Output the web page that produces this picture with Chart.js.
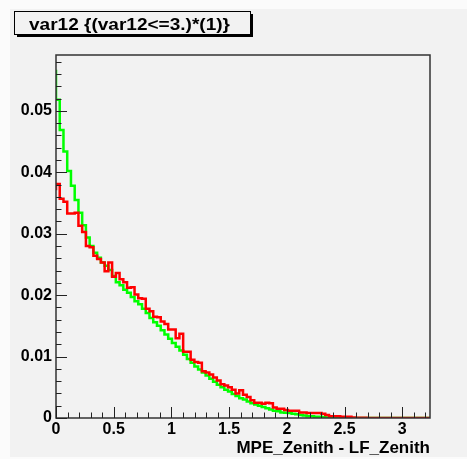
<!DOCTYPE html>
<html><head><meta charset="utf-8">
<script src="https://cdn.jsdelivr.net/npm/chart.js@4/dist/chart.umd.min.js"></script>
<style>html,body{margin:0;padding:0;background:#fbfbfb;} canvas{display:block;}</style>
</head><body>
<canvas id="c" width="467" height="459"></canvas>
<script>
const titleText = 'var12 {(var12<=3.)*(1)}';
const xAxisTitle = 'MPE_Zenith - LF_Zenith';
const binWidth = 0.0324;
const xMin = 0, xMax = 3.24;
const yMin = 0, yMax = 0.0591;
const xTicks = [0, 0.5, 1, 1.5, 2, 2.5, 3];
const xTickLabels = ['0', '0.5', '1', '1.5', '2', '2.5', '3'];
const yTicks = [0, 0.01, 0.02, 0.03, 0.04, 0.05];
const yTickLabels = ['0', '0.01', '0.02', '0.03', '0.04', '0.05'];

const greenValues = [
  0.0567,0.0518,0.0469,0.0434,0.0402,0.0378,0.0355,0.0334,0.0314,0.0294,0.0280,0.0269,
  0.0261,0.0253,0.0248,0.0241,0.0231,0.0221,0.0216,0.0209,0.0204,0.0197,0.0190,0.0185,
  0.0178,0.0171,0.0163,0.0156,0.0150,0.0143,0.0136,0.0129,0.0122,0.0116,0.0110,0.0103,
  0.0096,0.0090,0.0084,0.0079,0.0074,0.0069,0.0064,0.0059,0.0054,0.0050,0.0046,0.0043,
  0.0039,0.0036,0.0032,0.0030,0.0027,0.0024,0.0022,0.0020,0.0018,0.0016,0.0014,0.0012,
  0.0011,0.0009,0.00085,0.0008,0.0007,0.0006,0.0005,0.0004,0.0003,0.0003,0.0002,0.0002,
  0.00015,0.0001,0.0001,0.00005,0.00005,0.00003,0.00002,0.00002,0,0,0,0,
  0,0,0,0,0,0,0,0,0,0,0,0,0,0,0,0
];
const redValues = [
  0.0371,0.0381,0.0357,0.0352,0.0333,0.0333,0.0334,0.0313,0.0303,0.0280,0.0278,0.0264,
  0.0259,0.0253,0.0239,0.0253,0.0230,0.0236,0.0226,0.0221,0.0212,0.0213,0.0201,0.0195,
  0.0194,0.0178,0.0174,0.0165,0.0164,0.0157,0.0153,0.0144,0.0144,0.0130,0.0137,0.0108,
  0.0108,0.0095,0.0091,0.0090,0.0076,0.0074,0.0071,0.0066,0.0061,0.0055,0.0053,0.0050,
  0.0046,0.0040,0.0045,0.0038,0.0034,0.0029,0.0025,0.0025,0.0023,0.0025,0.0024,0.0017,
  0.0015,0.0015,0.0013,0.0012,0.0012,0.0012,0.0009,0.0009,0.0008,0.0008,0.0008,0.0008,
  0.0007,0.0005,0.0003,0.0003,0.0003,0.0002,0.0002,0.0002,0.0001,0.00005,0.00005,0.00003,
  0,0,0,0,0,0,0,0,0,0,0,0,0,0,0,0
];

function toSteps(vals) {
  const pts = vals.map((v, i) => ({x: i * binWidth, y: v}));
  pts.push({x: vals.length * binWidth, y: vals[vals.length - 1]});
  return pts;
}

const FONT = '"Liberation Sans", Arial, Helvetica, sans-serif';

const deco = {
  id: 'deco',
  beforeDraw(chart) {
    const ctx = chart.ctx;
    ctx.save();
    ctx.fillStyle = '#fbfbfb';
    ctx.fillRect(0, 0, chart.width, chart.height);
    ctx.fillStyle = '#f2f2f2';
    ctx.fillRect(10, 9, chart.width - 10, chart.height - 11);
    ctx.restore();
  },
  afterDraw(chart) {
    const {ctx, chartArea: a, scales: {x, y}} = chart;
    ctx.save();
    ctx.strokeStyle = '#333';
    ctx.lineWidth = 1.5;
    ctx.strokeRect(a.left, a.top, a.right - a.left, a.bottom - a.top);
    ctx.lineWidth = 1;
    ctx.strokeStyle = '#222';
    ctx.beginPath();
    const nx = Math.floor(xMax / 0.1 + 1e-9);
    for (let i = 0; i <= nx; i++) {
      const px = Math.round(x.getPixelForValue(i * 0.1)) + 0.5;
      const len = (i % 5 === 0) ? 11 : 5.5;
      ctx.moveTo(px, a.bottom); ctx.lineTo(px, a.bottom - len);
    }
    const ny = Math.floor(yMax / 0.002 + 1e-9);
    for (let i = 0; i <= ny; i++) {
      const py = Math.round(y.getPixelForValue(i * 0.002)) + 0.5;
      const len = (i % 5 === 0) ? 11 : 5.5;
      ctx.moveTo(a.left, py); ctx.lineTo(a.left + len, py);
    }
    ctx.stroke();

    // title box with shadow
    const bx = 14, by = 11, bw = 236, bh = 23;
    ctx.fillStyle = '#000';
    ctx.fillRect(bx + 3, by + bh, bw, 3);
    ctx.fillRect(bx + bw, by + 3, 3, bh);
    ctx.fillStyle = '#f2f2f2';
    ctx.fillRect(bx, by, bw, bh);
    ctx.strokeStyle = '#000';
    ctx.lineWidth = 1;
    ctx.strokeRect(bx + 0.5, by + 0.5, bw, bh);
    ctx.font = 'bold 17px ' + FONT;
    ctx.fillStyle = '#000';
    ctx.textBaseline = 'alphabetic';
    const w = ctx.measureText(titleText).width;
    const sx = 201 / w;
    ctx.translate(29, 29.5);
    ctx.scale(sx, 1);
    ctx.fillText(titleText, 0, 0);
    ctx.restore();
  }
};

new Chart(document.getElementById('c'), {
  type: 'line',
  data: {
    datasets: [
      {label: 'red', data: toSteps(redValues), borderColor: '#ff0000', borderWidth: 2.5,
       stepped: 'after', pointRadius: 0, fill: false, order: 0},
      {label: 'green', data: toSteps(greenValues), borderColor: '#00ff00', borderWidth: 2.5,
       stepped: 'after', pointRadius: 0, fill: false, order: 1}
    ]
  },
  options: {
    responsive: false,
    devicePixelRatio: 1,
    animation: false,
    layout: {padding: {left: 0, right: 37, top: 55, bottom: 0}},
    plugins: {legend: {display: false}, tooltip: {enabled: false}, title: {display: false}},
    scales: {
      x: {
        type: 'linear', min: xMin, max: xMax,
        grid: {display: false, drawTicks: false},
        border: {display: false},
        afterBuildTicks: s => { s.ticks = xTicks.map(v => ({value: v})); },
        afterFit: s => { s.height = 41; },
        ticks: {
          padding: 2, color: '#000', maxRotation: 0, autoSkip: false,
          font: {family: FONT, size: 16, weight: 'bold'},
          callback: (v) => { const i = xTicks.indexOf(v); return i >= 0 ? xTickLabels[i] : ''; }
        },
        title: {display: true, text: xAxisTitle, align: 'end', color: '#000',
                font: {family: FONT, size: 17, weight: 'bold'}, padding: {top: 0, bottom: 0}}
      },
      y: {
        type: 'linear', min: yMin, max: yMax,
        grid: {display: false, drawTicks: false},
        border: {display: false},
        afterBuildTicks: s => { s.ticks = yTicks.map(v => ({value: v})); },
        afterFit: s => { s.width = 56; },
        ticks: {
          padding: 4, color: '#000',
          font: {family: FONT, size: 16, weight: 'bold'},
          callback: (v) => { const i = yTicks.indexOf(v); return i >= 0 ? yTickLabels[i] : ''; }
        }
      }
    }
  },
  plugins: [deco]
});
</script>
</body></html>
